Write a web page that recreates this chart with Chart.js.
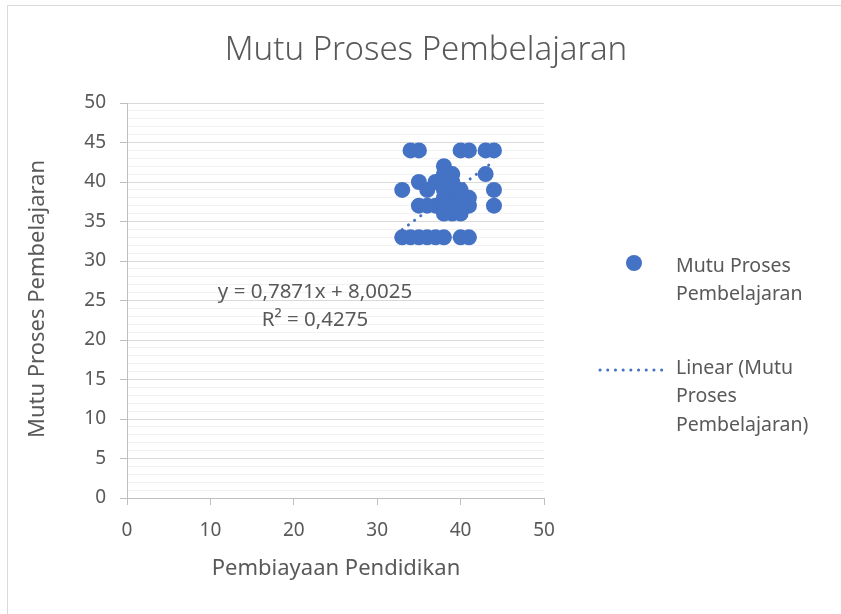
<!DOCTYPE html>
<html>
<head>
<meta charset="utf-8">
<script src="https://cdn.jsdelivr.net/npm/chart.js@4.4.1/dist/chart.umd.min.js"></script>
<style>
  html, body { margin: 0; padding: 0; background: #fff; }
  #wrap { width: 841px; height: 614px; }
</style>
</head>
<body>
<div id="wrap"><canvas id="myChart" width="841" height="614"></canvas></div>
<script>
// data
const pembiayaan = [33, 34, 35, 36, 37, 38, 40, 41,
                    33, 34, 35, 40, 41, 43, 44,
                    35, 37, 36,
                    38, 38, 39, 38, 39, 38, 39, 40, 39, 40, 41, 38,
                    35, 36, 37, 38, 39, 40, 41,
                    38, 39, 40,
                    43, 44, 44];
const mutu = [33, 33, 33, 33, 33, 33, 33, 33,
              39, 44, 44, 44, 44, 44, 44,
              40, 40, 39,
              42, 41, 41, 40, 40, 39, 39, 39, 38, 38, 38, 38,
              37, 37, 37, 37, 37, 37, 37,
              36, 36, 36,
              41, 39, 37];
const trendSlope = 0.7871;
const trendIntercept = 8.0025;
const trendRange = [33, 44];
const equationText = ['y = 0,7871x + 8,0025', 'R² = 0,4275'];
const seriesName = 'Mutu Proses Pembelajaran';
const legendLines = [['Mutu Proses', 'Pembelajaran'], ['Linear (Mutu', 'Proses', 'Pembelajaran)']];
const xTitle = 'Pembiayaan Pendidikan';
const yTitle = 'Mutu Proses Pembelajaran';

const blue = '#4472C4';
const textGray = '#595959';
const font = '"Noto Sans", sans-serif';

const points = pembiayaan.map((x, i) => ({ x: x, y: mutu[i] }));
const trend = trendRange.map(x => ({ x: x, y: trendSlope * x + trendIntercept }));

const extras = {
    id: 'extras',
    beforeDraw(chart) {
        const ctx = chart.ctx;
        ctx.save();
        ctx.fillStyle = '#fff';
        ctx.fillRect(0, 0, chart.width, chart.height);
        ctx.strokeStyle = '#d9d9d9';
        ctx.lineWidth = 1;
        ctx.beginPath();
        ctx.moveTo(7.5, chart.height);
        ctx.lineTo(7.5, 5.5);
        ctx.lineTo(chart.width, 5.5);
        ctx.stroke();
        ctx.restore();
    },
    afterDraw(chart) {
        const ctx = chart.ctx;
        ctx.save();
        ctx.fillStyle = textGray;
        ctx.textAlign = 'center';
        ctx.textBaseline = 'middle';

        ctx.font = '300 33px ' + font;
        ctx.fillText(seriesName, 426, 51);

        ctx.font = '22px ' + font;
        ctx.fillText(xTitle, 336, 569);
        ctx.save();
        ctx.translate(38, 299);
        ctx.rotate(-Math.PI / 2);
        ctx.fillText(yTitle, 0, 0);
        ctx.restore();

        ctx.font = '20.5px ' + font;
        ctx.fillText(equationText[0], 315, 292);
        ctx.fillText(equationText[1], 315, 320);

        // legend
        ctx.textAlign = 'left';
        ctx.beginPath();
        ctx.arc(634, 263, 8, 0, Math.PI * 2);
        ctx.fillStyle = blue;
        ctx.fill();
        ctx.strokeStyle = blue;
        ctx.lineWidth = 3;
        ctx.lineCap = 'round';
        ctx.setLineDash([0.1, 7.6]);
        ctx.beginPath();
        ctx.moveTo(600, 370);
        ctx.lineTo(668, 370);
        ctx.stroke();
        ctx.setLineDash([]);
        ctx.fillStyle = textGray;
        ctx.font = '19.5px ' + font;
        legendLines[0].forEach((t, i) => ctx.fillText(t, 676, 266 + i * 28));
        legendLines[1].forEach((t, i) => ctx.fillText(t, 676, 368 + i * 28.5));
        ctx.restore();
    }
};

new Chart(document.getElementById('myChart').getContext('2d'), {
    type: 'scatter',
    data: {
        datasets: [{
            label: seriesName,
            data: points,
            backgroundColor: blue,
            borderWidth: 0,
            pointRadius: 8,
            pointHoverRadius: 8,
            order: 2
        }, {
            type: 'line',
            label: 'Linear (' + seriesName + ')',
            data: trend,
            borderColor: blue,
            borderWidth: 3,
            borderDash: [0.1, 7.6],
            borderCapStyle: 'round',
            pointRadius: 0,
            fill: false,
            order: 1
        }]
    },
    options: {
        responsive: false,
        animation: false,
        layout: { padding: { left: 0, top: 103, right: 297, bottom: 0 } },
        plugins: {
            legend: { display: false },
            title: { display: false },
            tooltip: { enabled: false }
        },
        scales: {
            x: {
                type: 'linear',
                min: 0,
                max: 50,
                afterFit(scale) { scale.height = 116; },
                ticks: {
                    stepSize: 10,
                    color: textGray,
                    font: { family: font, size: 19 },
                    padding: 14
                },
                grid: { drawOnChartArea: false, drawTicks: true, tickLength: 7, tickColor: '#bfbfbf' },
                border: { color: '#bfbfbf', width: 1 }
            },
            y: {
                min: 0,
                max: 50,
                afterFit(scale) { scale.width = 127; },
                ticks: {
                    stepSize: 1,
                    autoSkip: false,
                    color: textGray,
                    font: { family: font, size: 19 },
                    padding: 14,
                    callback: v => (v % 5 === 0 ? v : '')
                },
                grid: {
                    color: c => (c.tick.value % 5 === 0 ? '#d9d9d9' : '#f2f2f2'),
                    tickColor: c => (c.tick.value % 5 === 0 ? '#bfbfbf' : 'rgba(0,0,0,0)'),
                    tickLength: 7,
                    lineWidth: 1
                },
                border: { color: '#bfbfbf', width: 1 }
            }
        }
    },
    plugins: [extras]
});
</script>
</body>
</html>
